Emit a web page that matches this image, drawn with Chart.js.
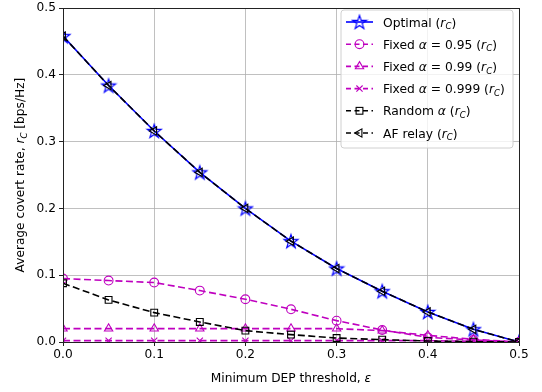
<!DOCTYPE html>
<html><head><meta charset="utf-8">
<script src="https://cdn.jsdelivr.net/npm/chart.js@4.4.1/dist/chart.umd.min.js"></script>
<style>html,body{margin:0;padding:0;background:#fff}#wrap{width:542px;height:392px;position:relative}</style>
</head><body><div id="wrap"><canvas id="c" width="542" height="392"></canvas></div>
<script>
// ---------- data ----------
const epsilon     = [0, 0.05, 0.1, 0.15, 0.2, 0.25, 0.3, 0.35, 0.4, 0.45, 0.5];
const optimal     = [0.458, 0.384, 0.316, 0.254, 0.200, 0.151, 0.110, 0.076, 0.045, 0.019, 0.0];
const fixed095    = [0.095, 0.092, 0.089, 0.077, 0.064, 0.049, 0.032, 0.018, 0.007, 0.003, 0.0];
const fixed099    = [0.020, 0.020, 0.020, 0.020, 0.020, 0.020, 0.020, 0.017, 0.010, 0.004, 0.0];
const fixed0999   = [0.002, 0.002, 0.002, 0.002, 0.002, 0.002, 0.002, 0.002, 0.002, 0.001, 0.0];
const randomAlpha = [0.088, 0.063, 0.044, 0.030, 0.017, 0.011, 0.006, 0.0035, 0.0015, 0.0005, 0.0];
const afRelay     = [0.458, 0.384, 0.316, 0.254, 0.200, 0.151, 0.110, 0.076, 0.045, 0.019, 0.0];
const xTicks = [0, 0.1, 0.2, 0.3, 0.4, 0.5];
const yTicks = [0, 0.1, 0.2, 0.3, 0.4, 0.5];
const seriesLabels = [
  "Optimal ({r}_C)",
  "Fixed {α} = 0.95 ({r}_C)",
  "Fixed {α} = 0.99 ({r}_C)",
  "Fixed {α} = 0.999 ({r}_C)",
  "Random {α} ({r}_C)",
  "AF relay ({r}_C)"
];
const xTitle = "Minimum DEP threshold, {ε}";
const yTitle = "Average covert rate, {r}_C [bps/Hz]";

// ---------- styles ----------
const FONT = "'DejaVu Sans', 'Liberation Sans', sans-serif";
const BLUE = '#0000ff', MAG = '#bf00bf', BLK = '#000000';

function makeStar(color) {
  const s = 18, c = document.createElement('canvas');
  c.width = s; c.height = s;
  const g = c.getContext('2d');
  const R = 7.3, r = 2.9, cx = s / 2, cy = s / 2 + 0.7;
  g.beginPath();
  for (let i = 0; i < 10; i++) {
    const a = -Math.PI / 2 + i * Math.PI / 5;
    const rr = i % 2 === 0 ? R : r;
    const px = cx + rr * Math.cos(a), py = cy + rr * Math.sin(a);
    i === 0 ? g.moveTo(px, py) : g.lineTo(px, py);
  }
  g.closePath();
  g.strokeStyle = color; g.lineWidth = 1.2; g.stroke();
  return c;
}
const starImg = makeStar(BLUE);

const DASH = [7, 3.5];
const seriesValues = [optimal, fixed095, fixed099, fixed0999, randomAlpha, afRelay];
const seriesStyle = [
  {color: BLUE, dash: [], style: starImg, radius: 7, rot: 0},
  {color: MAG, dash: DASH, style: 'circle', radius: 4.4, rot: 0},
  {color: MAG, dash: DASH, style: 'triangle', radius: 4.8, rot: 0},
  {color: MAG, dash: DASH, style: 'crossRot', radius: 4.4, rot: 0},
  {color: BLK, dash: DASH, style: 'rect', radius: 4.8, rot: 0},
  {color: BLK, dash: DASH, style: 'triangle', radius: 4.8, rot: -90}
];

const datasets = seriesValues.map((vals, i) => {
  const st = seriesStyle[i];
  return {
    label: seriesLabels[i],
    data: epsilon.map((x, k) => ({x: x, y: vals[k]})),
    borderColor: st.color,
    borderWidth: 1.6,
    borderDash: st.dash,
    backgroundColor: 'rgba(0,0,0,0)',
    pointStyle: st.style,
    pointRadius: st.radius,
    pointRotation: st.rot,
    pointBorderColor: st.color,
    pointBackgroundColor: 'rgba(0,0,0,0)',
    pointBorderWidth: 1.1,
    tension: 0,
    fill: false,
    clip: 0,
    order: seriesValues.length - i
  };
});

// ---------- rich text ----------
function parseRich(t) {
  const segs = []; let i = 0, buf = '';
  const flush = () => { if (buf) { segs.push({t: buf, it: false, sub: false}); buf = ''; } };
  while (i < t.length) {
    const ch = t[i];
    if (ch === '{') { flush(); const j = t.indexOf('}', i); segs.push({t: t.slice(i + 1, j), it: true, sub: false}); i = j + 1; }
    else if (ch === '_') { flush(); segs.push({t: t[i + 1], it: true, sub: true}); i += 2; }
    else { buf += ch; i++; }
  }
  flush();
  return segs;
}
function segFont(s, size) { return (s.it ? 'italic ' : '') + (s.sub ? size * 0.7 : size) + 'px ' + FONT; }
function richWidth(ctx, segs, size) {
  let w = 0; segs.forEach(s => { ctx.font = segFont(s, size); w += ctx.measureText(s.t).width; }); return w;
}
function drawRich(ctx, text, x, y, size, align) {
  const segs = parseRich(text);
  let cx = x;
  if (align === 'center') cx = x - richWidth(ctx, segs, size) / 2;
  ctx.textBaseline = 'alphabetic'; ctx.textAlign = 'left';
  segs.forEach(s => {
    ctx.font = segFont(s, size);
    ctx.fillText(s.t, cx, y + (s.sub ? size * 0.22 : 0));
    cx += ctx.measureText(s.t).width;
  });
}
function drawMarker(ctx, st, x, y) {
  ctx.save();
  ctx.strokeStyle = st.color; ctx.lineWidth = 1.1; ctx.setLineDash([]);
  const r = st.radius;
  if (typeof st.style !== 'string') {
    ctx.drawImage(st.style, x - st.style.width / 2, y - st.style.height / 2);
  } else if (st.style === 'circle') {
    ctx.beginPath(); ctx.arc(x, y, r, 0, Math.PI * 2); ctx.stroke();
  } else if (st.style === 'triangle') {
    ctx.translate(x, y); ctx.rotate(st.rot * Math.PI / 180);
    ctx.beginPath();
    for (let k = 0; k < 3; k++) {
      const a = -Math.PI / 2 + k * 2 * Math.PI / 3;
      const px = r * Math.cos(a), py = r * Math.sin(a);
      k === 0 ? ctx.moveTo(px, py) : ctx.lineTo(px, py);
    }
    ctx.closePath(); ctx.stroke();
  } else if (st.style === 'rect') {
    const h = r * Math.SQRT1_2;
    ctx.strokeRect(x - h, y - h, 2 * h, 2 * h);
  } else if (st.style === 'crossRot') {
    const h = r * Math.SQRT1_2;
    ctx.beginPath(); ctx.moveTo(x - h, y - h); ctx.lineTo(x + h, y + h);
    ctx.moveTo(x + h, y - h); ctx.lineTo(x - h, y + h); ctx.stroke();
  }
  ctx.restore();
}

const decor = {
  id: 'decor',
  afterDraw(chart) {
    const ctx = chart.ctx, a = chart.chartArea;
    ctx.save();
    // spines
    ctx.strokeStyle = '#222'; ctx.lineWidth = 1; ctx.setLineDash([]);
    ctx.strokeRect(Math.round(a.left) + 0.5, Math.round(a.top) + 0.5, Math.round(a.right - a.left), Math.round(a.bottom - a.top));
    // axis titles
    ctx.fillStyle = '#000';
    drawRich(ctx, xTitle, (a.left + a.right) / 2, 382, 12.2, 'center');
    ctx.save();
    ctx.translate(24, (a.top + a.bottom) / 2);
    ctx.rotate(-Math.PI / 2);
    drawRich(ctx, yTitle, 0, 0, 12.2, 'center');
    ctx.restore();
    // legend
    const bx = 341, by = 10, bw = 172, bh = 138, rad = 3;
    ctx.beginPath();
    ctx.moveTo(bx + rad, by); ctx.lineTo(bx + bw - rad, by); ctx.quadraticCurveTo(bx + bw, by, bx + bw, by + rad);
    ctx.lineTo(bx + bw, by + bh - rad); ctx.quadraticCurveTo(bx + bw, by + bh, bx + bw - rad, by + bh);
    ctx.lineTo(bx + rad, by + bh); ctx.quadraticCurveTo(bx, by + bh, bx, by + bh - rad);
    ctx.lineTo(bx, by + rad); ctx.quadraticCurveTo(bx, by, bx + rad, by);
    ctx.closePath();
    ctx.fillStyle = 'rgba(255,255,255,0.8)'; ctx.fill();
    ctx.strokeStyle = '#d0d0d0'; ctx.lineWidth = 1; ctx.stroke();
    seriesLabels.forEach((lab, i) => {
      const st = seriesStyle[i];
      const y = 22 + i * 22.2;
      ctx.save();
      ctx.strokeStyle = st.color; ctx.lineWidth = 1.6; ctx.setLineDash(st.dash.length ? [5, 3.5] : []);
      ctx.beginPath(); ctx.moveTo(346, y); ctx.lineTo(373, y); ctx.stroke();
      ctx.restore();
      drawMarker(ctx, st, 359.5, y);
      ctx.fillStyle = '#000';
      drawRich(ctx, lab, 383, y + 4.5, 12.3, 'left');
    });
    ctx.restore();
  }
};

new Chart(document.getElementById('c'), {
  type: 'line',
  data: {datasets: datasets},
  plugins: [decor],
  options: {
    responsive: false,
    animation: false,
    events: [],
    layout: {padding: {left: 0, top: 5, right: 23, bottom: 0}},
    plugins: {legend: {display: false}, tooltip: {enabled: false}},
    scales: {
      x: {
        type: 'linear', min: 0, max: 0.5,
        afterBuildTicks: s => { s.ticks = xTicks.map(v => ({value: v})); },
        afterFit: s => { s.height = 50; s.paddingLeft = 0; s.paddingRight = 0; },
        ticks: {color: '#000', font: {family: FONT, size: 12.2}, padding: 2, maxRotation: 0,
                callback: v => Number(v).toFixed(1)},
        grid: {color: '#b0b0b0', lineWidth: 0.8, tickLength: 4, tickColor: '#222', tickWidth: 1},
        border: {display: false}
      },
      y: {
        type: 'linear', min: 0, max: 0.5,
        afterBuildTicks: s => { s.ticks = yTicks.map(v => ({value: v})); },
        afterFit: s => { s.width = 63; s.paddingTop = 0; s.paddingBottom = 0; },
        ticks: {color: '#000', font: {family: FONT, size: 12.2, lineHeight: 0.75}, padding: 3,
                callback: v => Number(v).toFixed(1)},
        grid: {color: '#b0b0b0', lineWidth: 0.8, tickLength: 4, tickColor: '#222', tickWidth: 1},
        border: {display: false}
      }
    }
  }
});
</script>
</body></html>
